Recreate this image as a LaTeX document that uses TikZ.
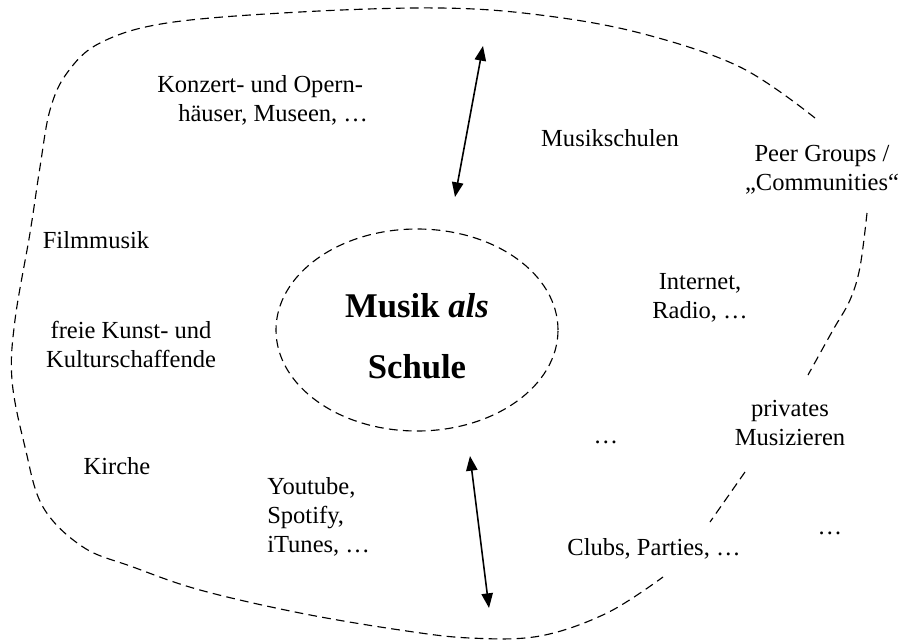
\documentclass[tikz,border=0pt]{standalone}
\usepackage{fontspec}
\setmainfont{Liberation Serif}
\usetikzlibrary{arrows.meta,shapes.geometric}
\begin{document}
\begin{tikzpicture}[x=0.75pt,y=-0.75pt,
  lbl/.style={font=\fontsize{18.4}{21.5}\selectfont, align=center, inner sep=0pt, anchor=base},
  lblleft/.style={font=\fontsize{18.4}{21.5}\selectfont, align=left, inner sep=0pt, anchor=base west},
  dashline/.style={line width=0.85pt, dash pattern=on 6.5pt off 4pt},
  dbl/.style={line width=1.2pt, {Triangle[length=11pt,width=8.5pt]}-{Triangle[length=11pt,width=8.5pt]}}]
\useasboundingbox (0,0) rectangle (904,643);
% outer boundary (three pieces)
\draw[dashline] plot[smooth, tension=0.6] coordinates {(815,118) (740,67) (640,33) (540,15) (440,8) (300,12) (167,23) (100,43) (67,73) (50,110) (40,167) (30,233) (15,320) (12,380) (25,447) (43,507) (83,547) (133,567) (200,590) (300,613) (400,630) (470,638) (540,636) (607,613) (663,577)};
\draw[dashline] plot[smooth, tension=0.6] coordinates {(867,213) (860,267) (850,300) (833,330) (808,375)};
\draw[dashline] (745,472) -- (710,522);
% central ellipse
\node[draw, dashline, ellipse, minimum width=211.5pt, minimum height=151.5pt, inner sep=0pt] (ell) at (417,330) {};
\node[lbl, font=\fontsize{26}{30}\selectfont\bfseries] (core1) at (417,317) {Musik \textit{als}};
\node[lbl, font=\fontsize{26}{30}\selectfont\bfseries] (core2) at (417,378) {Schule};
% arrows
\coordinate (a1) at (483,46);
\coordinate (a2) at (455,197);
\coordinate (b1) at (470,456);
\coordinate (b2) at (489,608);
\draw[dbl] (a1) -- (a2);
\draw[dbl] (b1) -- (b2);
% labels (anchor = baseline of last line)
\node[lblleft] (konz) at (157,121) {Konzert- und Opern-\\\hspace{15.75pt}häuser, Museen, …};
\node[lbl] (film) at (96,248) {Filmmusik};
\node[lbl] (frei) at (131,367) {freie Kunst- und\\Kulturschaffende};
\node[lbl] (kirche) at (117,474) {Kirche};
\node[lblleft] (yt) at (267,552) {Youtube,\\Spotify,\\iTunes, …};
\node[lbl] (ms) at (610,146) {Musikschulen};
\node[lbl] (peer) at (822,190) {Peer Groups /\\„Communities“};
\node[lbl] (inet) at (700,318) {Internet,\\Radio, …};
\node[lbl] (dots1) at (606,443) {…};
\node[lbl] (priv) at (790,445) {privates\\Musizieren};
\node[lbl] (dots2) at (830,534) {…};
\node[lbl] (clubs) at (654,555) {Clubs, Parties, …};
\end{tikzpicture}
\end{document}
